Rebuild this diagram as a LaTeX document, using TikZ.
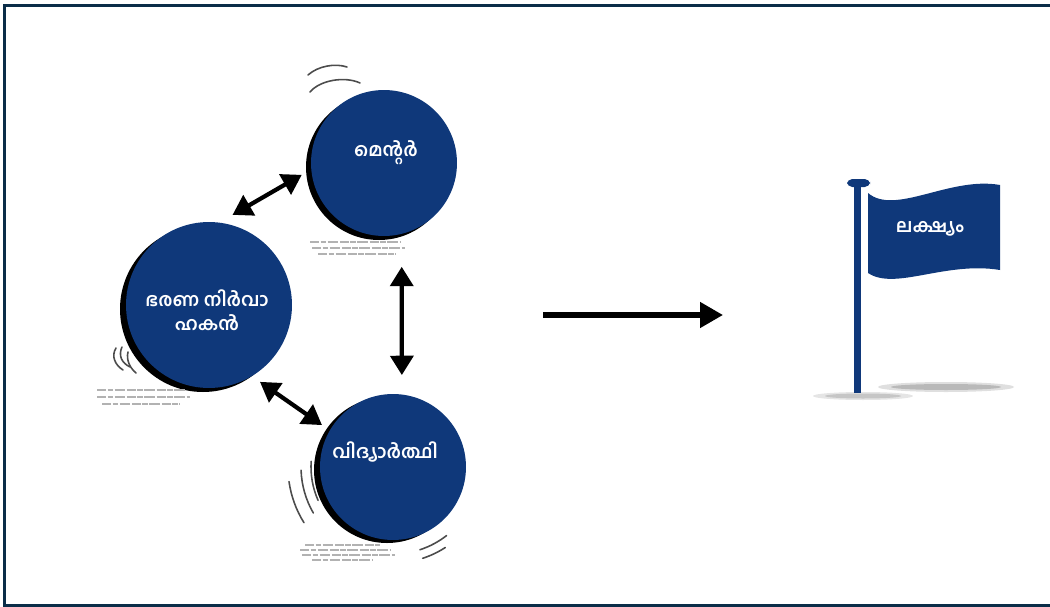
\documentclass[tikz,border=0pt]{standalone}
\usepackage{fontspec}
\newfontfamily\mlfont[Script=Malayalam]{Hind Kochi}
\usetikzlibrary{arrows.meta}
\definecolor{rolenavy}{RGB}{15,56,122}
\definecolor{framenavy}{RGB}{10,45,72}
\tikzset{
  rolecircle/.style={circle, fill=rolenavy, inner sep=0, outer sep=0, minimum size=2.92cm},
  roletext/.style={text=white, font=\mlfont\bfseries\fontsize{10.5}{14}\selectfont, align=center},
  linkarrow/.style={{Triangle[length=11pt,width=13pt]}-{Triangle[length=11pt,width=13pt]}, line width=2.4pt},
  swoosh/.style={black!70, line width=0.9pt, line cap=round},
  filler/.style={gray!60, line width=0.8pt, dash pattern=on 5pt off 1pt on 3pt off 1pt on 6pt off 1pt}
}

\begin{document}
\begin{tikzpicture}[x=0.02cm, y=0.02cm]
\useasboundingbox (0,0) rectangle (1050,606);
% frame
\draw [framenavy, line width=1.7pt] (1050,600.5) -- (4.5,600.5) -- (4.5,1) -- (1050,1);

% shadows behind the circles
\fill (379,439) circle (73);
\fill (203,297) circle (83);
\fill (387,136) circle (73);

% circles
\node [rolecircle] (mentor) at (384,443) {};
\node [rolecircle, minimum size=3.32cm] (admin) at (209,301) {};
\node [rolecircle] (student) at (393,139) {};
\node [roletext] (mentortext) at (386,453) {മെന്റർ};
\node [roletext] (admintext) at (207,296) {ഭരണ നിർവാ\\ഹകൻ};
\node [roletext] (studenttext) at (385,154) {വിദ്യാർത്ഥി};

% links
\draw [linkarrow, shorten <=0.31cm, shorten >=0.22cm] (admin.83) -- (mentor.185);
\draw [linkarrow, shorten <=0.66cm, shorten >=0.39cm] (mentor.284) -- (student.83);
\draw [linkarrow, shorten <=0.2cm, shorten >=0.19cm] (admin.301) -- (student.150);

% motion lines
\draw [swoosh] (308,531) .. controls (318,540) and (335,543) .. (347,539);
\draw [swoosh] (310,514) .. controls (320,526) and (345,530) .. (360,523);
\draw [swoosh] (116,258) .. controls (111,250) and (115,241) .. (123,236);
\draw [swoosh] (122,259) .. controls (118,250) and (122,243) .. (130,239);
\draw [swoosh] (128,254) .. controls (126,246) and (130,238) .. (136,233);
\draw [swoosh] ([shift=(188:105)]student.center) arc [start angle=188, end angle=212, radius=105];
\draw [swoosh] ([shift=(182:92)]student.center) arc [start angle=182, end angle=210, radius=92];
\draw [swoosh] ([shift=(176:82)]student.center) arc [start angle=176, end angle=204, radius=82];
\draw [swoosh] ([shift=(-72:87)]student.center) arc [start angle=-72, end angle=-52, radius=87];
\draw [swoosh] ([shift=(-72:96)]student.center) arc [start angle=-72, end angle=-57, radius=96];

% small print under the circles
\draw [filler] (310,364) -- (400,364);
\draw [filler] (312,358) -- (405,358);
\draw [filler] (318,352) -- (396,352);
\draw [filler] (97,216) -- (185,216);
\draw [filler] (97,209) -- (190,209);
\draw [filler] (102,202) -- (180,202);
\draw [filler] (305,61) -- (380,61);
\draw [filler] (300,56) -- (390,56);
\draw [filler] (302,51) -- (395,51);
\draw [filler] (312,46) -- (372,46);

% towards the goal
\coordinate (goalfrom) at (543,291);
\coordinate (goalto) at (723,291);
\draw [-{Triangle[length=13pt,width=14pt]}, line width=3pt] (goalfrom) -- (goalto);

% flag
\fill [gray!25] (946,219) ellipse (68 and 5);
\fill [gray!55] (946,219) ellipse (55 and 3);
\fill [gray!20] (863,210) ellipse (50 and 4);
\fill [gray!45] (863,210) ellipse (38 and 2.5);
\fill [rolenavy] (854,213) rectangle (861,424);
\fill [rolenavy, rounded corners=3pt] (847,419) rectangle (870,427);
\fill [rolenavy] (868,413) .. controls (895,390) and (950,430) .. (1000,421) -- (1000,336) .. controls (945,345) and (895,315) .. (868,333) -- cycle;
\node [roletext] (goaltext) at (930,377) {ലക്ഷ്യം};
\end{tikzpicture}
\end{document}
